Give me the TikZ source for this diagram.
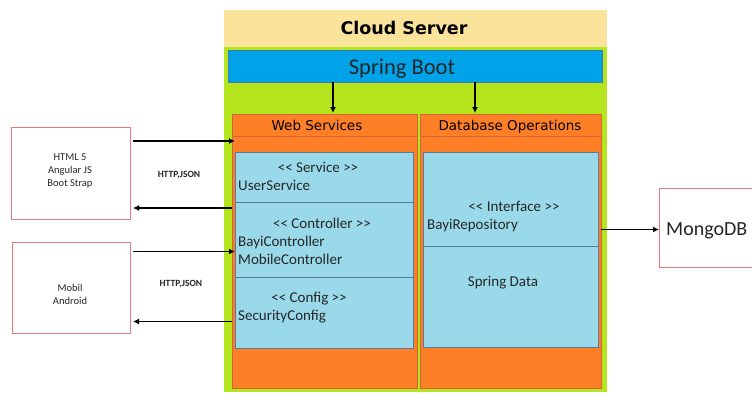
\documentclass[tikz,border=0pt]{standalone}
\usepackage{fontspec}
\setmainfont{Carlito}
\newfontfamily\dvs{DejaVu Sans}
\usetikzlibrary{arrows.meta,calc}
\definecolor{cyell}{HTML}{FAE39A}
\definecolor{cgreen}{HTML}{B5E61D}
\definecolor{cblue}{HTML}{00A2E8}
\definecolor{cblueb}{HTML}{3A78B8}
\definecolor{corange}{HTML}{FF7F27}
\definecolor{coranb}{HTML}{D0653A}
\definecolor{clblue}{HTML}{99D9EA}
\definecolor{clblueb}{HTML}{587A9E}
\definecolor{cpink}{HTML}{E47A7C}
\tikzset{
  box/.style={anchor=north west, inner sep=0pt, outer sep=0pt},
  orbox/.style={box, fill=corange, draw=coranb, line width=0.8pt},
  lbbox/.style={box, fill=clblue, draw=clblueb, line width=0.8pt},
  pkbox/.style={box, draw=cpink, line width=0.9pt},
  arr/.style={line width=1.8pt, -{Latex[length=6pt,width=6pt]}},
  ptxt/.style={font=\fontsize{15}{18}\selectfont, text=black!85, inner sep=0pt},
  hdr/.style={font=\dvs\fontsize{13.5}{15}\selectfont, inner sep=0pt, anchor=base},
  ctxt/.style={font=\fontsize{10.5}{12.8}\selectfont, align=center, inner sep=0pt, text=black!85},
  jtxt/.style={font=\bfseries\fontsize{9.5}{11}\selectfont, inner sep=0pt, text=black!85}
}
\begin{document}
\begin{tikzpicture}[x=1pt,y=-1pt]
\useasboundingbox (0,0) rectangle (752,392);
\clip (0,0) rectangle (752,392);
\fill[white] (0,0) rectangle (752,392);
% cloud server
\node[box, fill=cyell, minimum width=383pt, minimum height=37pt] (cloud) at (224,10) {};
\node[anchor=base, inner sep=0pt, font=\dvs\bfseries\fontsize{17.5}{20}\selectfont] (cloudt) at (404,34) {Cloud Server};
\node[box, fill=cgreen, minimum width=383pt, minimum height=345pt] (green) at (224,47) {};
% spring boot
\node[box, fill=cblue, draw=cblueb, line width=0.8pt, minimum width=374pt, minimum height=32pt] (spring) at (228,50) {};
\node[anchor=base, inner sep=0pt, font=\fontsize{22.5}{26}\selectfont, text=black!85] (springt) at (402,74) {Spring Boot};
% web services
\node[orbox, minimum width=185pt, minimum height=274pt] (ws) at (232,114) {};
\node[orbox, minimum width=185pt, minimum height=22pt] (wsh) at (232,114) {};
\node[hdr] (wst) at (317,130) {Web Services};
\node[orbox, minimum width=181pt, minimum height=274pt] (db) at (420,114) {};
\node[orbox, minimum width=181pt, minimum height=22pt] (dbh) at (420,114) {};
\node[hdr] (dbt) at (510,130) {Database Operations};
% left blue panel
\node[lbbox, minimum width=178pt, minimum height=50pt] (lb1) at (235,152) {};
\node[lbbox, minimum width=178pt, minimum height=75pt] (lb2) at (235,202) {};
\node[lbbox, minimum width=178pt, minimum height=71pt] (lb3) at (235,277) {};
\node[ptxt, anchor=base] (s1) at (318,172) {<{}< Service >{}>};
\node[ptxt, anchor=base west] (s2) at (238,190) {UserService};
\node[ptxt, anchor=base] (c1) at (322,228) {<{}< Controller >{}>};
\node[ptxt, anchor=base west] (c2) at (238,246) {BayiController};
\node[ptxt, anchor=base west] (c3) at (238,264) {MobileController};
\node[ptxt, anchor=base] (g1) at (309,302) {<{}< Config >{}>};
\node[ptxt, anchor=base west] (g2) at (238,320) {SecurityConfig};
% right blue panel
\node[lbbox, minimum width=175pt, minimum height=94pt] (rb1) at (423,152) {};
\node[lbbox, minimum width=175pt, minimum height=101pt] (rb2) at (423,246) {};
\node[ptxt, anchor=base] (i1) at (514,211) {<{}< Interface >{}>};
\node[ptxt, anchor=base west] (i2) at (427,229) {BayiRepository};
\node[ptxt, anchor=base] (sd) at (503,286) {Spring Data};
% clients
\node[pkbox, minimum width=119pt, minimum height=92pt] (html) at (11,127) {};
\node[ctxt] (htmlt) at (70,171) {HTML 5\\Angular JS\\Boot Strap};
\node[pkbox, minimum width=118pt, minimum height=91pt] (mob) at (12,242) {};
\node[ctxt] (mobt) at (70,294) {Mobil\\Android};
\node[jtxt] (j1) at (179,175) {HTTP,JSON};
\node[jtxt] (j2) at (181,284) {HTTP,JSON};
% mongo
\node[pkbox, minimum width=120pt, minimum height=79pt] (mongo) at (659,188) {};
\node[anchor=base west, inner sep=0pt, font=\fontsize{20}{24}\selectfont, text=black!85] (mongot) at (666,235) {MongoDB};
% arrows
\draw[arr] ([xshift=3pt,yshift=32pt]html.east) -- ([xshift=3pt,yshift=32pt]html.east -| ws.west);
\draw[arr] ([yshift=-35pt]html.east -| ws.west) -- ([xshift=3pt,yshift=-35pt]html.east);
\draw[arr] ([xshift=3pt,yshift=36pt]mob.east) -- ([xshift=3pt,yshift=36pt]mob.east -| ws.west);
\draw[arr] ([yshift=-34pt]mob.east -| ws.west) -- ([xshift=3pt,yshift=-34pt]mob.east);
\coordinate (sa) at ([xshift=-82pt]spring.south);
\coordinate (sb) at ([xshift=60pt]spring.south);
\draw[arr] (sa) -- ([yshift=1pt]sa |- ws.north);
\draw[arr] (sb) -- ([yshift=1pt]sb |- db.north);
\draw[arr] ([yshift=-2pt]db.east |- mongo.west) -- ([yshift=-2pt]mongo.west);
\end{tikzpicture}
\end{document}
